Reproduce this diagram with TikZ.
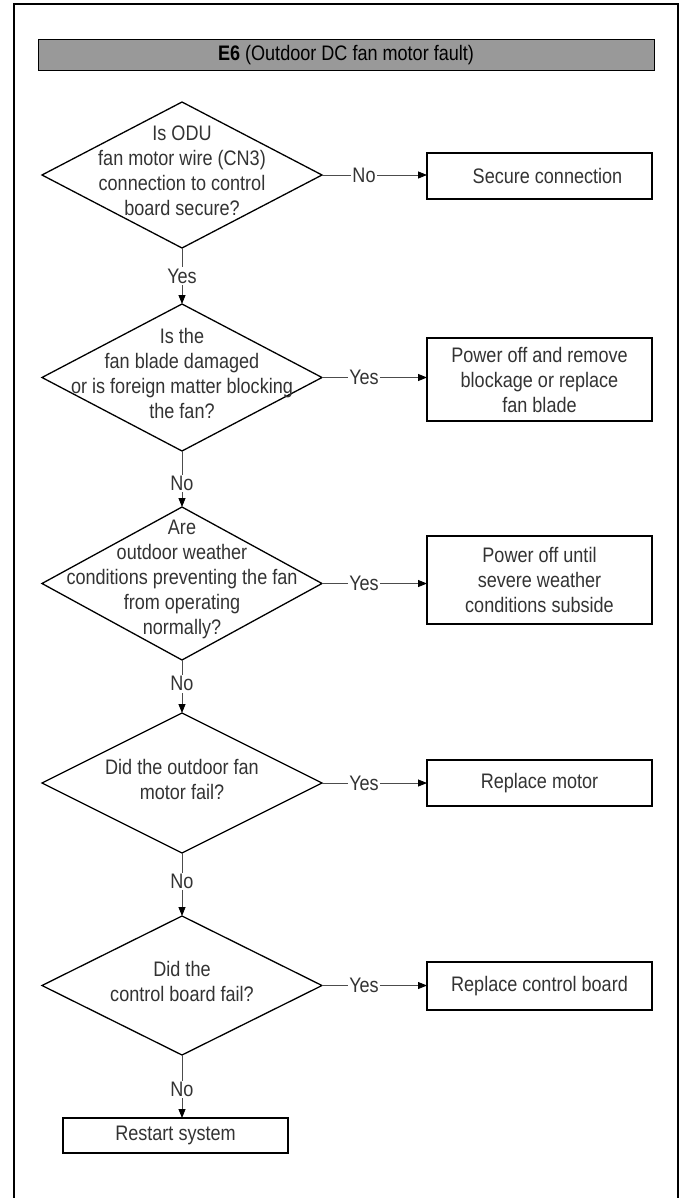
\documentclass[tikz,border=0pt]{standalone}
\usepackage{fontspec}
\setmainfont{Liberation Sans}[FakeStretch=0.86]
\usetikzlibrary{shapes.geometric,arrows.meta}
\begin{document}
\begin{tikzpicture}[x=1pt,y=-1pt,
  every node/.style={font=\fontsize{21}{25}\selectfont, text=black!80},
  dia/.style={draw=black, line width=1.3pt, shape=diamond, inner sep=0pt, outer sep=0pt, minimum width=280pt},
  dtext/.style={align=center, inner sep=0pt, yshift=4pt},
  box/.style={draw=black, line width=1.5pt, minimum width=225pt, align=center, inner sep=0pt, outer sep=0pt},
  conn/.style={draw=black!70, line width=0.8pt},
  arr/.style={conn, -{Triangle[length=9pt,width=7pt,fill=black,color=black]}},
  lbl/.style={fill=white, inner sep=1.5pt}
]
\useasboundingbox (0,0) rectangle (681,1198);
\fill[white] (0,0) rectangle (681,1198);
\draw[line width=1.2pt] (14,1198) -- (14,4) -- (678,4) -- (678,1198);

\node[draw=black, fill=black!40, minimum width=616pt, minimum height=31pt, inner sep=0pt, line width=1pt, text=black] (hdr) at (346,55.5) {\textbf{E6} (Outdoor DC fan motor fault)};

\node[dia, minimum height=146pt] (d1) at (182,175) {};
\node[dia, minimum height=147pt] (d2) at (182,377.5) {};
\node[dia, minimum height=153pt] (d3) at (182,583.5) {};
\node[dia, minimum height=140pt] (d4) at (182,783) {};
\node[dia, minimum height=139pt] (d5) at (182,985.5) {};

\node[dtext] (t1) at (d1) {Is ODU\\fan motor wire (CN3)\\connection to control\\board secure?};
\node[dtext] (t2) at (d2) {Is the\\fan blade damaged\\or is foreign matter blocking\\the fan?};
\node[dtext] (t3) at (d3) {Are\\outdoor weather\\conditions preventing the fan\\from operating\\normally?};
\node[dtext] (t4) at (d4) {Did the outdoor fan\\motor fail?};
\node[dtext] (t5) at (d5) {Did the\\control board fail?};

\node[box, minimum height=46pt] (b1) at (539.5,176) {\hspace*{16pt}Secure connection};
\node[box, minimum height=83pt] (b2) at (539.5,379.5) {Power off and remove\\blockage or replace\\fan blade};
\node[box, minimum height=88pt] (b3) at (539.5,580) {Power off until\\severe weather\\conditions subside};
\node[box, minimum height=46pt] (b4) at (539.5,783) {Replace motor};
\node[box, minimum height=48pt] (b5) at (539.5,986) {Replace control board};
\node[box, minimum height=35pt] (rs) at (175.5,1135.5) {Restart system};

\draw[arr] (d1.east) -- node[lbl, pos=0.4] {No} (d1.east -| b1.west);
\draw[arr] (d2.east) -- node[lbl, pos=0.4] {Yes} (d2.east -| b2.west);
\draw[arr] (d3.east) -- node[lbl, pos=0.4] {Yes} (d3.east -| b3.west);
\draw[arr] (d4.east) -- node[lbl, pos=0.4] {Yes} (d4.east -| b4.west);
\draw[arr] (d5.east) -- node[lbl, pos=0.4] {Yes} (d5.east -| b5.west);

\draw[arr] (d1.south) -- node[lbl, pos=0.5] {Yes} (d2.north);
\draw[arr] (d2.south) -- node[lbl, pos=0.58] {No} (d3.north);
\draw[arr] (d3.south) -- node[lbl, pos=0.45] {No} (d4.north);
\draw[arr] (d4.south) -- node[lbl, pos=0.45] {No} (d5.north);
\draw[arr] (d5.south) -- node[lbl, pos=0.55] {No} (d5.south |- rs.north);
\end{tikzpicture}
\end{document}
